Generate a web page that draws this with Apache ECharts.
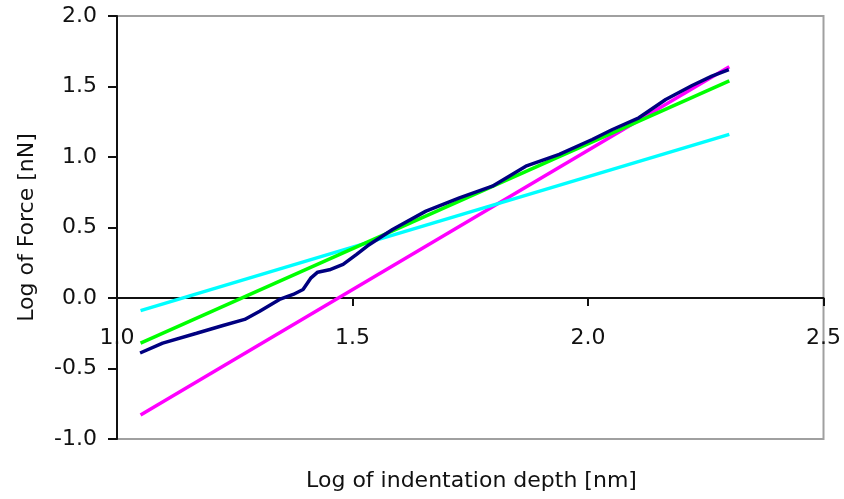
<!DOCTYPE html>
<html>
<head>
<meta charset="utf-8">
<script src="https://cdn.jsdelivr.net/npm/echarts@6/dist/echarts.min.js"></script>
<style>
html,body{margin:0;padding:0;background:#fff;}
#chart{width:844px;height:499px;}
</style>
</head>
<body>
<div id="chart"></div>
<script>
// Measured curve (dark blue)
const measuredX = [1.049, 1.097, 1.169, 1.225, 1.271, 1.303, 1.345, 1.374, 1.395, 1.412, 1.426, 1.451, 1.480, 1.508, 1.532, 1.585, 1.656, 1.727, 1.797, 1.868, 1.939, 2.009, 2.052, 2.108, 2.165, 2.221, 2.263, 2.299];
const measuredY = [-0.39, -0.32, -0.25, -0.195, -0.152, -0.094, -0.01, 0.025, 0.06, 0.143, 0.183, 0.20, 0.238, 0.308, 0.37, 0.486, 0.616, 0.71, 0.793, 0.935, 1.018, 1.124, 1.195, 1.278, 1.408, 1.507, 1.573, 1.62];
// Straight fit lines (end points)
const fitX = [1.05, 2.30];
const greenY = [-0.32, 1.54];
const cyanY = [-0.09, 1.16];
const magentaY = [-0.83, 1.64];
// Axis ticks
const xTicks = [1.0, 1.5, 2.0, 2.5];
const yTicks = [-1.0, -0.5, 0.0, 0.5, 1.0, 1.5, 2.0];
const xTitle = 'Log of indentation depth [nm]';
const yTitle = 'Log of Force [nN]';

const pairs = (xs, ys) => xs.map((x, i) => [x, ys[i]]);
const FONT = 'DejaVu Sans';
const GRID = {left: 117, top: 16, right: 18, bottom: 60};
const chartW = 844, chartH = 499;

const chart = echarts.init(document.getElementById('chart'), null, {renderer: 'canvas'});
const lineSeries = (name, xs, ys, color) => ({
  name, type: 'line', data: pairs(xs, ys), showSymbol: false, symbol: 'none',
  lineStyle: {color, width: 3.5}, itemStyle: {color}, animation: false, z: 3
});
// distance (px) from the bottom of the plot to the y = 0 line
const plotH = chartH - GRID.top - GRID.bottom;
const zeroOffset = plotH * (0 - yTicks[0]) / (yTicks[yTicks.length - 1] - yTicks[0]);
const plotCenterX = GRID.left + (chartW - GRID.left - GRID.right) / 2;

chart.setOption({
  animation: false,
  backgroundColor: '#fff',
  grid: Object.assign({show: true, borderColor: '#a0a0a0', borderWidth: 2, backgroundColor: 'transparent'}, GRID),
  xAxis: {
    type: 'value', min: xTicks[0], max: xTicks[xTicks.length - 1], interval: 0.5,
    offset: -zeroOffset,
    axisLine: {show: true, onZero: false, lineStyle: {color: '#111', width: 2}},
    axisTick: {show: true, length: 8, lineStyle: {color: '#111', width: 2}},
    axisLabel: {margin: 29, color: '#111', fontFamily: FONT, fontSize: 22, formatter: v => v.toFixed(1)},
    splitLine: {show: false}
  },
  yAxis: {
    type: 'value', min: yTicks[0], max: yTicks[yTicks.length - 1], interval: 0.5,
    name: yTitle, nameLocation: 'middle', nameRotate: 90, nameGap: 79,
    nameTextStyle: {color: '#111', fontFamily: FONT, fontSize: 22},
    axisLine: {show: true, lineStyle: {color: '#111', width: 2}},
    axisTick: {show: true, length: 9, lineStyle: {color: '#111', width: 2}},
    axisLabel: {margin: 20, color: '#111', fontFamily: FONT, fontSize: 22, formatter: v => v.toFixed(1)},
    splitLine: {show: false}
  },
  graphic: [{
    type: 'text', x: plotCenterX, y: 481,
    style: {text: xTitle, fill: '#111', font: '22px "DejaVu Sans"', textAlign: 'center', textVerticalAlign: 'middle'}
  }],
  series: [
    lineSeries('Power fit 2', fitX, magentaY, '#ff00ff'),
    lineSeries('Power fit 1', fitX, cyanY, '#00ffff'),
    lineSeries('Fit', fitX, greenY, '#00ff00'),
    lineSeries('Measured', measuredX, measuredY, '#000080')
  ]
});
</script>
</body>
</html>
